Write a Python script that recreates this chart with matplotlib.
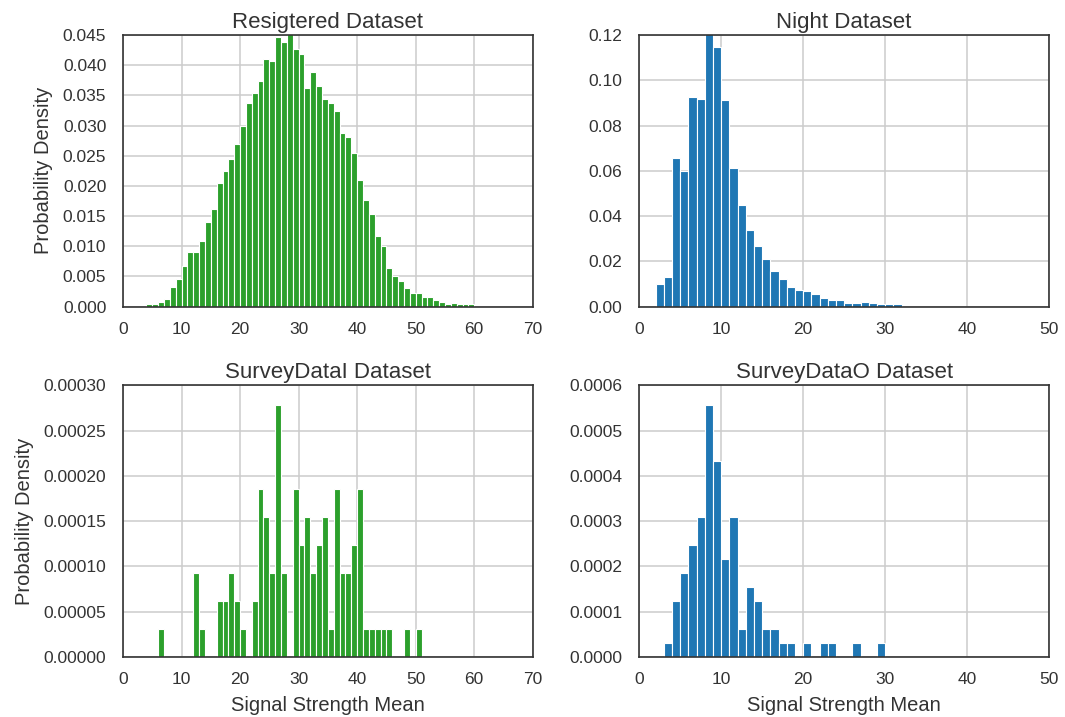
import numpy as np
import matplotlib
matplotlib.use("Agg")
import matplotlib.pyplot as plt

# 直方图数据: 每个柱子的左边界 (宽度 1) 和概率密度
reg_left = list(range(4, 60))
reg_density = [0.0004, 0.0004, 0.0008, 0.0013, 0.0033, 0.0045, 0.0067, 0.0091,
               0.0091, 0.0109, 0.0140, 0.0161, 0.0205, 0.0225, 0.0245, 0.0269,
               0.0300, 0.0337, 0.0354, 0.0373, 0.0410, 0.0407, 0.0446, 0.0439,
               0.0452, 0.0427, 0.0419, 0.0363, 0.0388, 0.0366, 0.0344, 0.0337,
               0.0324, 0.0288, 0.0281, 0.0254, 0.0210, 0.0176, 0.0154, 0.0117,
               0.0100, 0.0064, 0.0050, 0.0042, 0.0030, 0.0023, 0.0023, 0.0016,
               0.0016, 0.0011, 0.0008, 0.0004, 0.0006, 0.0004, 0.0004, 0.0004]

night_left = list(range(2, 32))
night_density = [0.0100, 0.0133, 0.0658, 0.0601, 0.0924, 0.0918, 0.1210, 0.1145,
                 0.0911, 0.0614, 0.0450, 0.0339, 0.0267, 0.0210, 0.0159, 0.0121,
                 0.0087, 0.0074, 0.0068, 0.0055, 0.0037, 0.0030, 0.0030, 0.0016,
                 0.0016, 0.0022, 0.0016, 0.0011, 0.0011, 0.0011]

survey1_left = [6, 12, 13, 16, 17, 18, 19, 20, 22, 23, 24, 25, 26, 27, 29, 30, 31,
                32, 33, 34, 35, 36, 37, 38, 39, 40, 41, 42, 43, 44, 45, 48, 50]
survey1_density = [0.0000309, 0.0000927, 0.0000309, 0.0000618, 0.0000618,
                   0.0000927, 0.0000618, 0.0000309, 0.0000618, 0.0001854,
                   0.0001545, 0.0000927, 0.0002781, 0.0000927, 0.0001854,
                   0.0001236, 0.0001545, 0.0000927, 0.0001236, 0.0001545,
                   0.0000309, 0.0001854, 0.0000927, 0.0000927, 0.0001236,
                   0.0001854, 0.0000309, 0.0000309, 0.0000309, 0.0000309,
                   0.0000309, 0.0000309, 0.0000309]

survey0_left = [3, 4, 5, 6, 7, 8, 9, 10, 11, 12, 13, 14, 15, 16, 17, 18, 20, 22,
                23, 26, 29]
survey0_density = [0.0000309, 0.0001236, 0.0001854, 0.0002472, 0.0003090,
                   0.0005562, 0.0004326, 0.0002163, 0.0003090, 0.0000618,
                   0.0001545, 0.0001236, 0.0000618, 0.0000618, 0.0000309,
                   0.0000309, 0.0000309, 0.0000309, 0.0000309, 0.0000309,
                   0.0000309]

GREEN = "#2ca02c"
BLUE = "#1f77b4"

plt.rcParams["font.family"] = ["Liberation Sans", "DejaVu Sans"]
plt.rcParams["text.color"] = "#333333"
plt.rcParams["axes.labelcolor"] = "#333333"
plt.rcParams["xtick.color"] = "#333333"
plt.rcParams["ytick.color"] = "#333333"

fig, axes = plt.subplots(2, 2, figsize=(10.65, 7.17), dpi=100)
fig.subplots_adjust(left=0.1155, right=0.985, bottom=0.0837, top=0.9512,
                    wspace=0.26, hspace=0.29)

panels = [
    (axes[0, 0], reg_left, reg_density, GREEN, "Resigtered Dataset", 70, 0.045,
     np.arange(0, 0.0451, 0.005), "{:.3f}"),
    (axes[0, 1], night_left, night_density, BLUE, "Night Dataset", 50, 0.12,
     np.arange(0, 0.121, 0.02), "{:.2f}"),
    (axes[1, 0], survey1_left, survey1_density, GREEN, "SurveyDataI Dataset", 70, 0.0003,
     np.arange(0, 0.00031, 0.00005), "{:.5f}"),
    (axes[1, 1], survey0_left, survey0_density, BLUE, "SurveyDataO Dataset", 50, 0.0006,
     np.arange(0, 0.00061, 0.0001), "{:.4f}"),
]

for ax, left, dens, color, title, xmax, ymax, yticks, fmt in panels:
    ax.bar(left, dens, width=1, align="edge", color=color,
           edgecolor="white", linewidth=0.8, zorder=2)
    ax.set_xlim(0, xmax)
    ax.set_ylim(0, ymax)
    ax.set_yticks(yticks)
    ax.set_yticklabels([fmt.format(v) for v in yticks])
    ax.set_title(title, fontsize=16, pad=5)
    ax.grid(True, color="#cccccc", linewidth=1.1, zorder=0)
    ax.set_axisbelow(True)
    ax.tick_params(axis="x", length=0, labelsize=12.5, pad=11)
    ax.tick_params(axis="y", length=0, labelsize=12.5, pad=12)
    for sp in ax.spines.values():
        sp.set_color("#333333")
        sp.set_linewidth(1.2)

for ax in axes[:, 0]:
    ax.set_ylabel("Probability Density", fontsize=14.5, labelpad=7)
for ax in axes[1, :]:
    ax.set_xlabel("Signal Strength Mean", fontsize=14.5, labelpad=6)

fig.savefig("out.png", dpi=100, facecolor="white")
